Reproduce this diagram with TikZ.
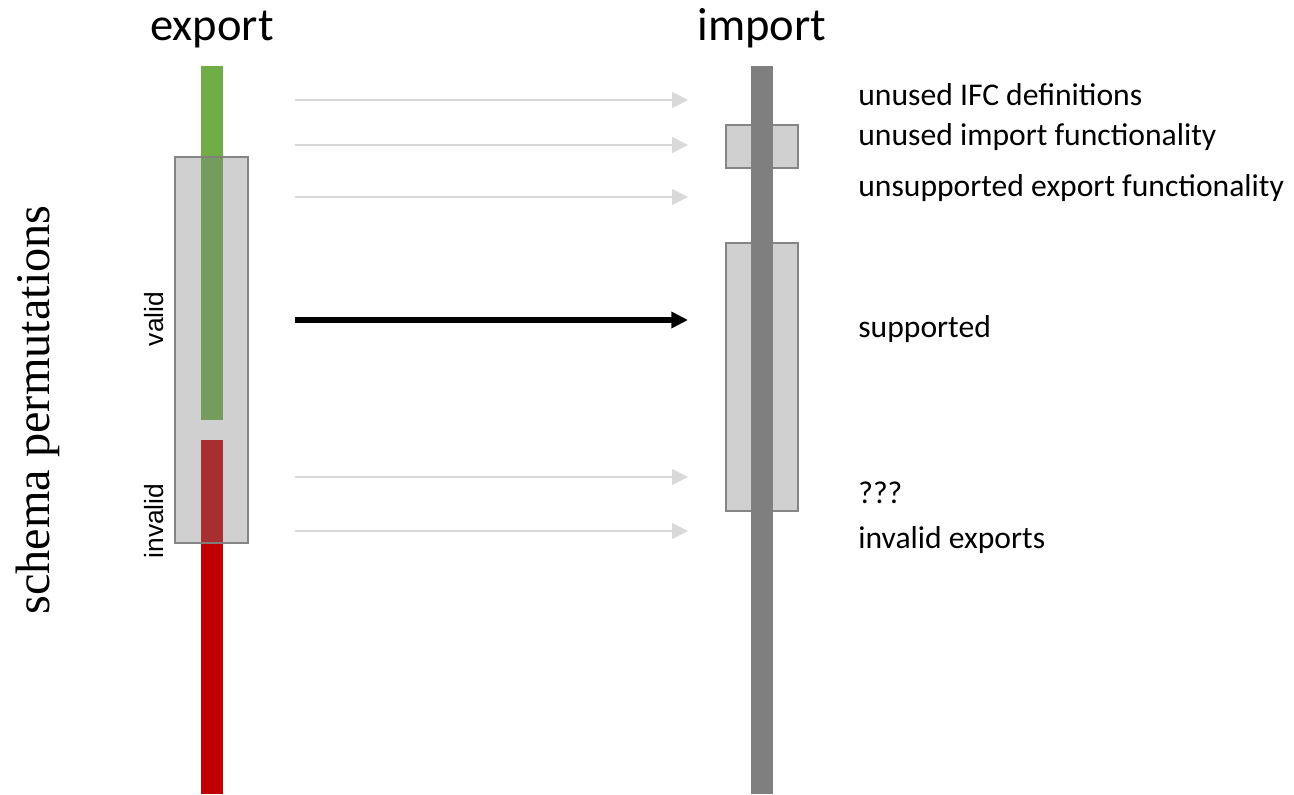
\documentclass[tikz,border=0pt]{standalone}
\usepackage{fontspec}
\setmainfont{Carlito}
\newfontfamily\rotfont{Liberation Sans}
\newfontfamily\sidefont{Liberation Serif}
\usetikzlibrary{arrows.meta}
\definecolor{validgreen}{HTML}{70AD47}
\definecolor{invalidred}{HTML}{C00000}
\definecolor{bargray}{HTML}{7F7F7F}
\definecolor{flowgray}{HTML}{D9D9D9}

\begin{document}
\begin{tikzpicture}[x=0.02cm, y=-0.02cm,
  spanbox/.style={fill=black!50, fill opacity=0.37, draw=black!50, draw opacity=0.95, line width=1.3pt},
  flow/.style={draw=flowgray, line width=0.85pt, -{Triangle[length=9pt,width=9pt]}},
  mainflow/.style={draw=black, line width=2.9pt, -{Triangle[length=9.5pt,width=9pt]}},
  coltitle/.style={font=\fontsize{26.5}{30}\selectfont, anchor=base, inner sep=0pt},
  outcome/.style={font=\fontsize{18}{22}\selectfont, anchor=base west, inner sep=0pt},
  sidetag/.style={font=\rotfont\fontsize{15}{18}\selectfont, rotate=90, anchor=base, inner sep=0pt}]
  \useasboundingbox (0,0) rectangle (1294,794);
  % titles
  \node[coltitle] (export) at (212,41) {export};
  \node[coltitle] (import) at (762,41) {import};
  \node[font=\sidefont\fontsize{27.5}{32}\selectfont, rotate=90, anchor=base, inner sep=0pt] (perm) at (49,410) {schema permutations};
  % export side
  \fill[validgreen] (201,66) rectangle (223,420);
  \fill[invalidred] (201,440) rectangle (223,794);
  \draw[spanbox] (175,157) rectangle (248,543);
  \node[sidetag] (valid) at (163,319) {valid};
  \node[sidetag] (invalid) at (163,521) {invalid};
  % import side
  \draw[spanbox] (726,125) rectangle (798,168);
  \draw[spanbox] (726,243) rectangle (798,511);
  \fill[bargray] (751,66) rectangle (773,794);
  % flows
  \coordinate (f1s) at (295,100); \coordinate (f1e) at (688,100);
  \coordinate (f2s) at (295,145); \coordinate (f2e) at (688,145);
  \coordinate (f3s) at (295,197); \coordinate (f3e) at (688,197);
  \coordinate (f4s) at (295,320); \coordinate (f4e) at (688,320);
  \coordinate (f5s) at (295,477); \coordinate (f5e) at (688,477);
  \coordinate (f6s) at (295,531); \coordinate (f6e) at (688,531);
  \draw[flow] (f1s) -- (f1e);
  \draw[flow] (f2s) -- (f2e);
  \draw[flow] (f3s) -- (f3e);
  \draw[mainflow] (f4s) -- (f4e);
  \draw[flow] (f5s) -- (f5e);
  \draw[flow] (f6s) -- (f6e);
  % outcomes
  \node[outcome] (ifcdefs) at (858,106) {unused IFC definitions};
  \node[outcome] (importfn) at (858,145) {unused import functionality};
  \node[outcome] (exportfn) at (858,196) {unsupported export functionality};
  \node[outcome] (supported) at (858,337) {supported};
  \node[outcome] (unknown) at (858,503) {???};
  \node[outcome] (badexports) at (858,548) {invalid exports};
\end{tikzpicture}
\end{document}
